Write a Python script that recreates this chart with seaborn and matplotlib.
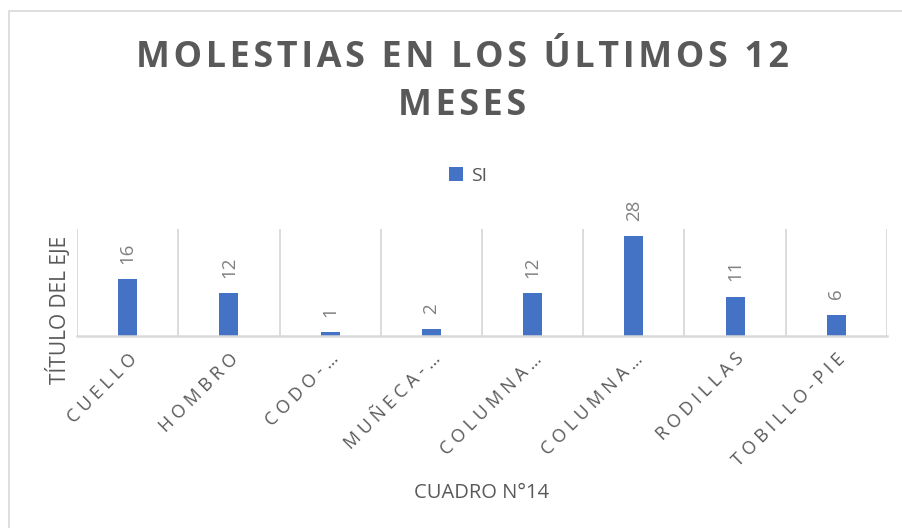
import matplotlib
matplotlib.use("Agg")
import matplotlib.pyplot as plt
import seaborn as sns
import pandas as pd
from matplotlib.patches import Rectangle, Patch

categories = ["CUELLO", "HOMBRO", "CODO-…", "MUÑECA-…", "COLUMNA…", "COLUMNA…", "RODILLAS", "TOBILLO-PIE"]
values = [16, 12, 1, 2, 12, 28, 11, 6]
series_name = "SI"
title_lines = ["MOLESTIAS EN LOS ÚLTIMOS 12", "MESES"]
y_title = "TÍTULO DEL EJE"
x_title = "CUADRO N°14"

sns.set_theme(style="white")
plt.rcParams["font.family"] = ["Open Sans", "DejaVu Sans"]

BAR = "#4472C4"
DARK = "#595959"
LIGHT = "#7F7F7F"
GRID = "#D9D9D9"

def spaced(s, sep):
    return sep.join(list(s))

df = pd.DataFrame({"cat": range(len(categories)), "val": values})

fig = plt.figure(figsize=(9.02, 5.28), dpi=100)
W, H = 902, 528
ax = fig.add_axes([77 / W, 1 - 336 / H, (887 - 77) / W, (336 - 229) / H])

sns.barplot(data=df, x="cat", y="val", color=BAR, width=0.19, ax=ax,
            saturation=1, native_scale=False)
ax.set_ylim(0, 30)
ax.set_xlim(-0.5, len(categories) - 0.5)

for p in ax.patches:
    p.set_edgecolor("none")

# category separators
for b in range(len(categories) + 1):
    ax.axvline(b - 0.5, color=GRID, lw=1.3, zorder=0)

for s in ["top", "right", "left"]:
    ax.spines[s].set_visible(False)
ax.spines["bottom"].set_color(GRID)
ax.spines["bottom"].set_linewidth(1.8)
ax.set_yticks([])
ax.tick_params(axis="x", length=0, pad=10)

ax.set_xticks(range(len(categories)))
ax.set_xticklabels([spaced(c, " ") for c in categories], rotation=45, ha="right",
                   rotation_mode="anchor", color=DARK, fontsize=13)

ax.bar_label(ax.containers[0], labels=[str(v) for v in values], rotation=90,
             padding=11, color=LIGHT, fontsize=13.5)

ax.set_ylabel("")
ax.set_xlabel("")
fig.text(58 / W, 1 - 310 / H, y_title, rotation=90, ha="center", va="center",
         color=DARK, fontsize=15)
fig.text(482 / W, 1 - 493 / H, x_title, ha="center", va="center",
         color=DARK, fontsize=14.5)

for yc, line in zip([58, 106], title_lines):
    fig.text(462 / W, 1 - yc / H, spaced(line, "\u200a"), ha="center", va="center",
             color=DARK, fontsize=25.8, fontweight="bold",
             family=["Open Sans", "DejaVu Sans"])

leg = fig.legend(handles=[Patch(facecolor=BAR, edgecolor="none", label=series_name)],
                 loc="center", bbox_to_anchor=(468 / W, 1 - 176 / H), frameon=False,
                 fontsize=14, handlelength=0.75, handleheight=0.75, handletextpad=0.4,
                 labelcolor=DARK)

# chart area border
fig.patches.append(Rectangle((9 / W, -0.05), 1.2, 1 - 11 / H + 0.05, transform=fig.transFigure,
                             fill=False, edgecolor="#D9D9D9", lw=1.2))

fig.savefig("out.png", dpi=100)
